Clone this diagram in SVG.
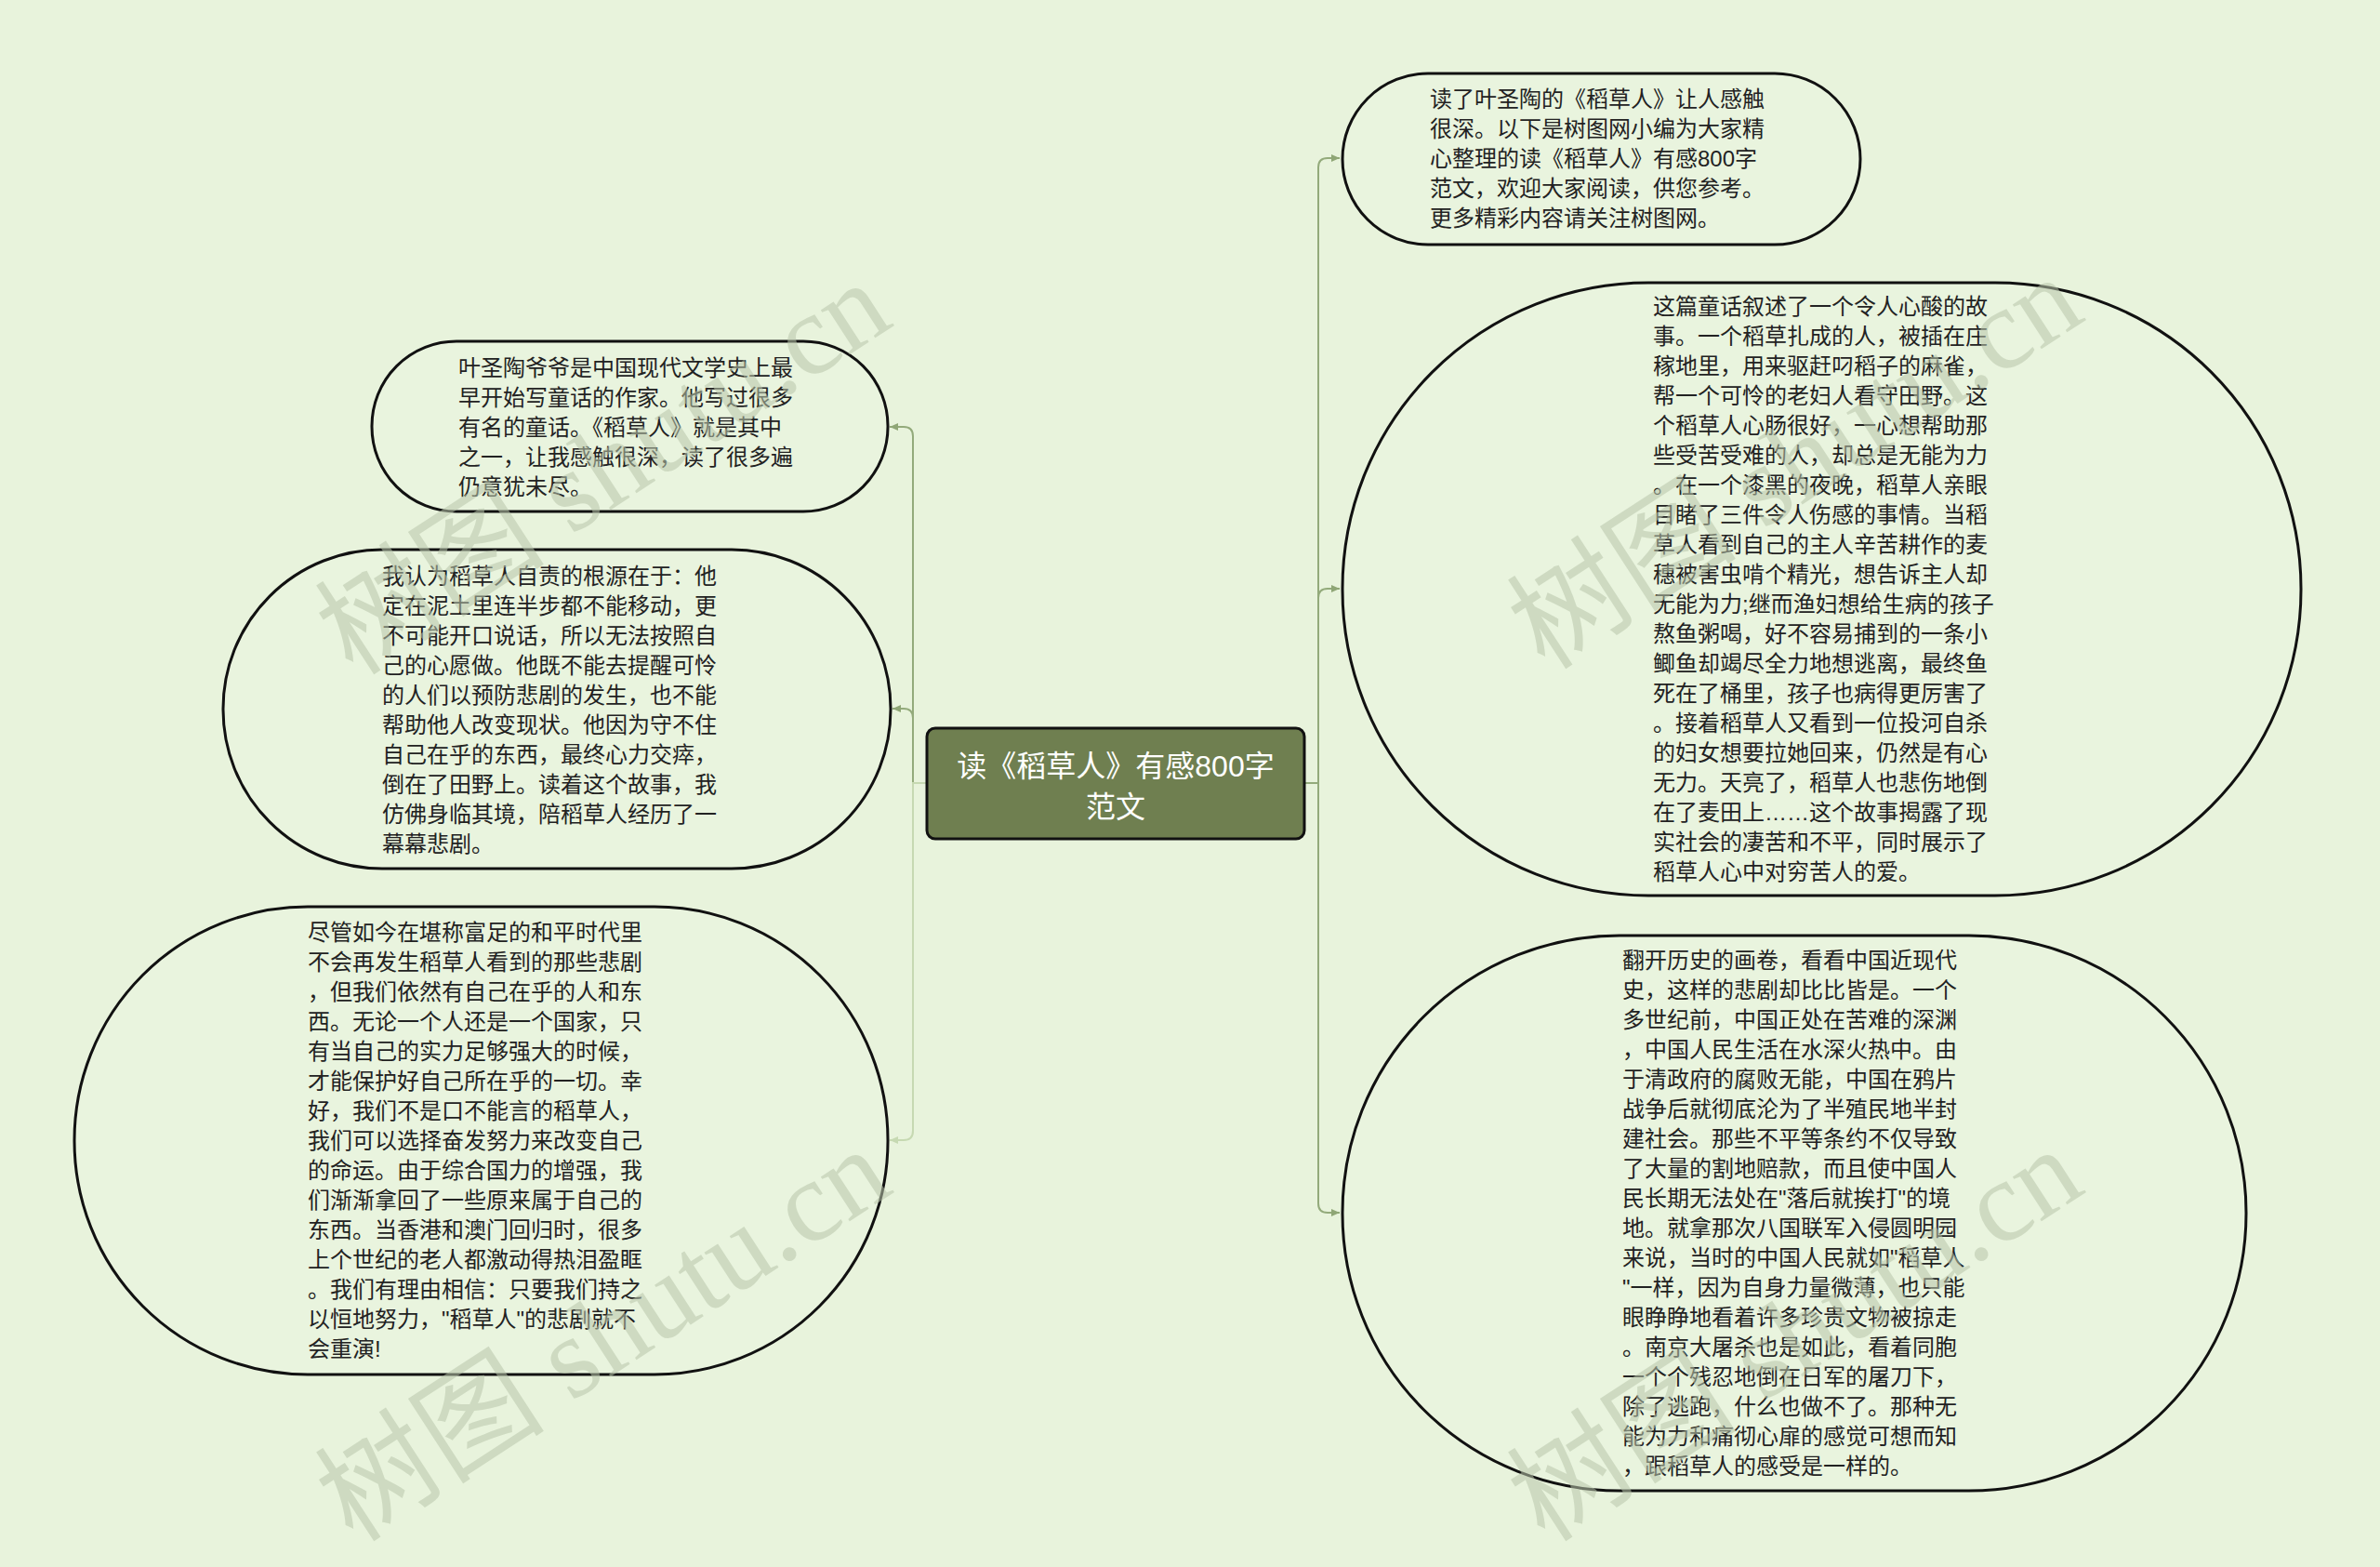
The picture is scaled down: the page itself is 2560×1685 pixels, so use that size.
<svg xmlns="http://www.w3.org/2000/svg" width="2560" height="1685" viewBox="0 0 2560 1685">
<defs>
<marker id="arr" markerWidth="10" markerHeight="10" refX="9" refY="5" orient="auto" markerUnits="userSpaceOnUse">
<path d="M0,1 L9,5 L0,9 z" fill="#8fa676"/>
</marker>
<marker id="arrL" markerWidth="10" markerHeight="10" refX="9" refY="5" orient="auto" markerUnits="userSpaceOnUse">
<path d="M0,1 L9,5 L0,9 z" fill="#c6d9b2"/>
</marker>
<style>
.bg{fill:#e8f3dc}
.node{fill:#e9f4de;stroke:#111;stroke-width:3}
.root{fill:#6f7f50;stroke:#111;stroke-width:3}
.t{font-family:"Liberation Sans","Noto Sans CJK SC",sans-serif;font-size:24px;fill:#222}
.rt{font-family:"Liberation Sans","Noto Sans CJK SC",sans-serif;font-size:32px;fill:#fff;text-anchor:middle}
.c{fill:none;stroke:#93aa7b;stroke-width:2}
.cl{fill:none;stroke:#c6d9b2;stroke-width:2}
.wm{font-family:"Liberation Serif","Noto Sans CJK SC",serif;font-size:124px;fill:#b9c6ab;opacity:0.55}
</style>
</defs>
<rect class="bg" x="0" y="0" width="2560" height="1685"/>

<g id="connectors">
<path class="c" d="M997 842 H982 V469 Q982 459 972 459 H957" marker-end="url(#arr)"/>
<path class="c" d="M982 772 Q982 762 972 762 H960" marker-end="url(#arr)"/>
<path class="cl" d="M997 842 H982 V1216 Q982 1226 972 1226 H957" marker-end="url(#arrL)"/>
<path class="c" d="M1403 842 H1418 V180 Q1418 170 1428 170 H1441" marker-end="url(#arr)"/>
<path class="c" d="M1418 643 Q1418 633 1428 633 H1441" marker-end="url(#arr)"/>
<path class="c" d="M1403 842 H1418 V1294 Q1418 1304 1428 1304 H1441" marker-end="url(#arr)"/>
</g>

<g id="root">
<rect class="root" x="997" y="783" width="406" height="119" rx="9"/>
<text class="rt" x="1200" y="835">读《稻草人》有感800字</text>
<text class="rt" x="1200" y="879">范文</text>
</g>

<g id="r1">
<rect class="node" x="1444" y="79" width="557" height="184" rx="92" ry="92"/>
<text class="t"><tspan x="1538" y="115">读了叶圣陶的《稻草人》让人感触</tspan><tspan x="1538" y="147">很深。以下是树图网小编为大家精</tspan><tspan x="1538" y="179">心整理的读《稻草人》有感800字</tspan><tspan x="1538" y="211">范文，欢迎大家阅读，供您参考。</tspan><tspan x="1538" y="243">更多精彩内容请关注树图网。</tspan></text>
</g>

<g id="r2">
<rect class="node" x="1444" y="304" width="1031" height="659" rx="329" ry="329"/>
<text class="t"><tspan x="1778" y="338">这篇童话叙述了一个令人心酸的故</tspan><tspan x="1778" y="370">事。一个稻草扎成的人，被插在庄</tspan><tspan x="1778" y="402">稼地里，用来驱赶叼稻子的麻雀，</tspan><tspan x="1778" y="434">帮一个可怜的老妇人看守田野。这</tspan><tspan x="1778" y="466">个稻草人心肠很好，一心想帮助那</tspan><tspan x="1778" y="498">些受苦受难的人，却总是无能为力</tspan><tspan x="1778" y="530">。在一个漆黑的夜晚，稻草人亲眼</tspan><tspan x="1778" y="562">目睹了三件令人伤感的事情。当稻</tspan><tspan x="1778" y="594">草人看到自己的主人辛苦耕作的麦</tspan><tspan x="1778" y="626">穗被害虫啃个精光，想告诉主人却</tspan><tspan x="1778" y="658">无能为力;继而渔妇想给生病的孩子</tspan><tspan x="1778" y="690">熬鱼粥喝，好不容易捕到的一条小</tspan><tspan x="1778" y="722">鲫鱼却竭尽全力地想逃离，最终鱼</tspan><tspan x="1778" y="754">死在了桶里，孩子也病得更厉害了</tspan><tspan x="1778" y="786">。接着稻草人又看到一位投河自杀</tspan><tspan x="1778" y="818">的妇女想要拉她回来，仍然是有心</tspan><tspan x="1778" y="850">无力。天亮了，稻草人也悲伤地倒</tspan><tspan x="1778" y="882">在了麦田上……这个故事揭露了现</tspan><tspan x="1778" y="914">实社会的凄苦和不平，同时展示了</tspan><tspan x="1778" y="946">稻草人心中对穷苦人的爱。</tspan></text>
</g>

<g id="r3">
<rect class="node" x="1444" y="1006" width="972" height="597" rx="298" ry="298"/>
<text class="t"><tspan x="1745" y="1041">翻开历史的画卷，看看中国近现代</tspan><tspan x="1745" y="1073">史，这样的悲剧却比比皆是。一个</tspan><tspan x="1745" y="1105">多世纪前，中国正处在苦难的深渊</tspan><tspan x="1745" y="1137">，中国人民生活在水深火热中。由</tspan><tspan x="1745" y="1169">于清政府的腐败无能，中国在鸦片</tspan><tspan x="1745" y="1201">战争后就彻底沦为了半殖民地半封</tspan><tspan x="1745" y="1233">建社会。那些不平等条约不仅导致</tspan><tspan x="1745" y="1265">了大量的割地赔款，而且使中国人</tspan><tspan x="1745" y="1297">民长期无法处在"落后就挨打"的境</tspan><tspan x="1745" y="1329">地。就拿那次八国联军入侵圆明园</tspan><tspan x="1745" y="1361">来说，当时的中国人民就如"稻草人</tspan><tspan x="1745" y="1393">"一样，因为自身力量微薄，也只能</tspan><tspan x="1745" y="1425">眼睁睁地看着许多珍贵文物被掠走</tspan><tspan x="1745" y="1457">。南京大屠杀也是如此，看着同胞</tspan><tspan x="1745" y="1489">一个个残忍地倒在日军的屠刀下，</tspan><tspan x="1745" y="1521">除了逃跑，什么也做不了。那种无</tspan><tspan x="1745" y="1553">能为力和痛彻心扉的感觉可想而知</tspan><tspan x="1745" y="1585">，跟稻草人的感受是一样的。</tspan></text>
</g>

<g id="l1">
<rect class="node" x="400" y="367" width="555" height="183" rx="91" ry="91"/>
<text class="t"><tspan x="493" y="404">叶圣陶爷爷是中国现代文学史上最</tspan><tspan x="493" y="436">早开始写童话的作家。他写过很多</tspan><tspan x="493" y="468">有名的童话。《稻草人》就是其中</tspan><tspan x="493" y="500">之一，让我感触很深，读了很多遍</tspan><tspan x="493" y="532">仍意犹未尽。</tspan></text>
</g>

<g id="l2">
<rect class="node" x="240" y="591" width="718" height="343" rx="171" ry="171"/>
<text class="t"><tspan x="411" y="628">我认为稻草人自责的根源在于：他</tspan><tspan x="411" y="660">定在泥土里连半步都不能移动，更</tspan><tspan x="411" y="692">不可能开口说话，所以无法按照自</tspan><tspan x="411" y="724">己的心愿做。他既不能去提醒可怜</tspan><tspan x="411" y="756">的人们以预防悲剧的发生，也不能</tspan><tspan x="411" y="788">帮助他人改变现状。他因为守不住</tspan><tspan x="411" y="820">自己在乎的东西，最终心力交瘁，</tspan><tspan x="411" y="852">倒在了田野上。读着这个故事，我</tspan><tspan x="411" y="884">仿佛身临其境，陪稻草人经历了一</tspan><tspan x="411" y="916">幕幕悲剧。</tspan></text>
</g>

<g id="l3">
<rect class="node" x="80" y="975" width="875" height="503" rx="251" ry="251"/>
<text class="t"><tspan x="331" y="1011">尽管如今在堪称富足的和平时代里</tspan><tspan x="331" y="1043">不会再发生稻草人看到的那些悲剧</tspan><tspan x="331" y="1075">，但我们依然有自己在乎的人和东</tspan><tspan x="331" y="1107">西。无论一个人还是一个国家，只</tspan><tspan x="331" y="1139">有当自己的实力足够强大的时候，</tspan><tspan x="331" y="1171">才能保护好自己所在乎的一切。幸</tspan><tspan x="331" y="1203">好，我们不是口不能言的稻草人，</tspan><tspan x="331" y="1235">我们可以选择奋发努力来改变自己</tspan><tspan x="331" y="1267">的命运。由于综合国力的增强，我</tspan><tspan x="331" y="1299">们渐渐拿回了一些原来属于自己的</tspan><tspan x="331" y="1331">东西。当香港和澳门回归时，很多</tspan><tspan x="331" y="1363">上个世纪的老人都激动得热泪盈眶</tspan><tspan x="331" y="1395">。我们有理由相信：只要我们持之</tspan><tspan x="331" y="1427">以恒地努力，"稻草人"的悲剧就不</tspan><tspan x="331" y="1459">会重演!</tspan></text>
</g>

<g id="watermarks">
<text class="wm" transform="translate(380,728) rotate(-33)">树图 shutu.cn</text>
<text class="wm" transform="translate(380,1660) rotate(-33)">树图 shutu.cn</text>
<text class="wm" transform="translate(1662,722) rotate(-33)">树图 shutu.cn</text>
<text class="wm" transform="translate(1662,1660) rotate(-33)">树图 shutu.cn</text>
</g>
</svg>
